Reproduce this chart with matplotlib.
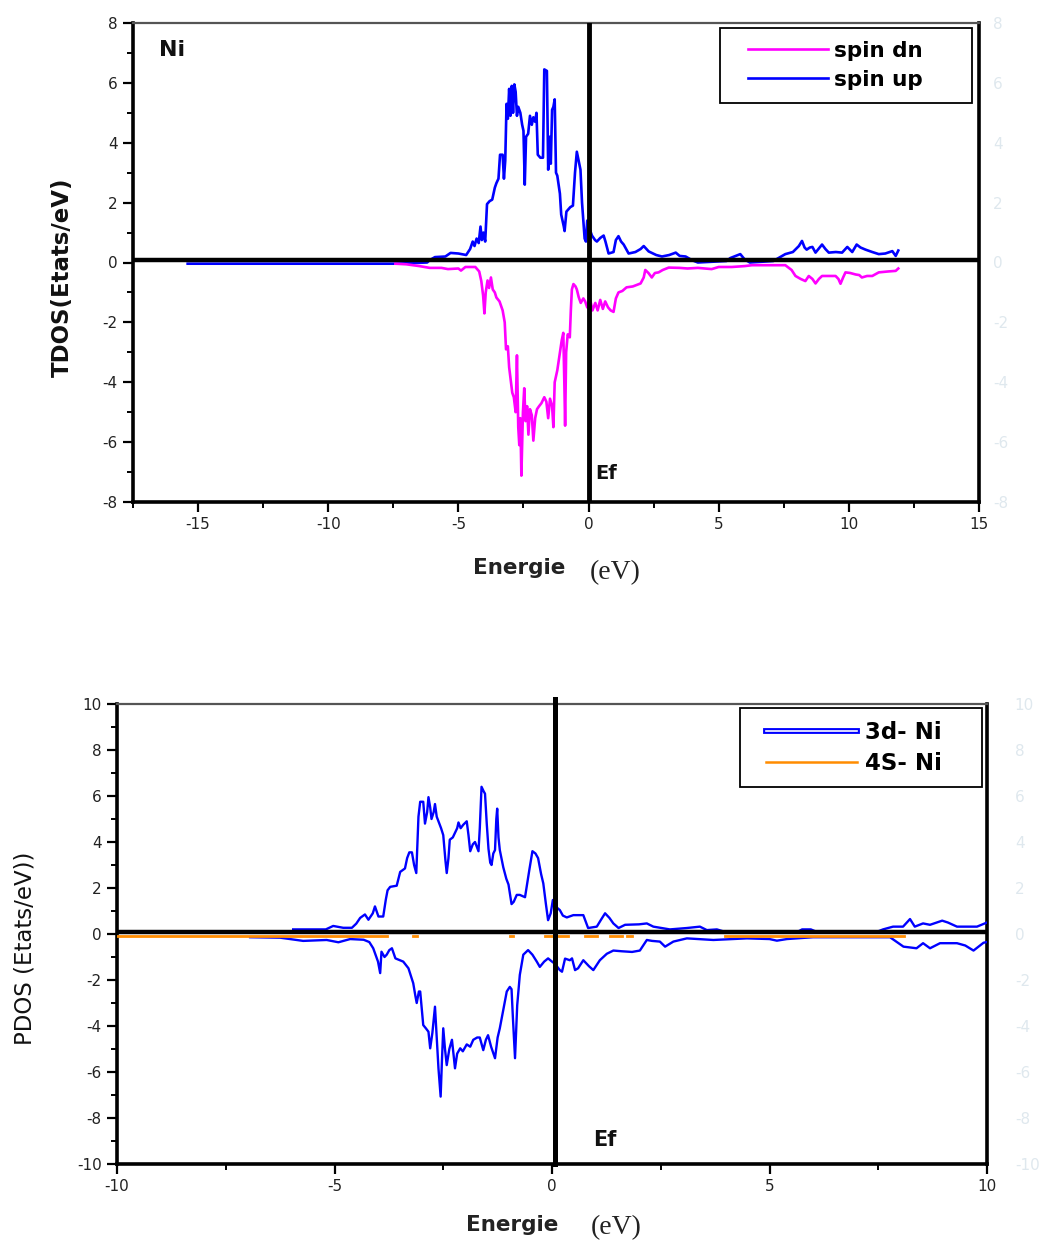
import numpy as np
import matplotlib
matplotlib.use("Agg")
import matplotlib.pyplot as plt
from matplotlib.lines import Line2D
from matplotlib.legend_handler import HandlerLine2D
import matplotlib.patheffects as pe

# ---------------- data ----------------
# Top panel: TDOS of Ni
E_up_top = [-15.4, -7.4, -6.2, -6.1, -5.9, -5.5, -5.3, -5.0, -4.7, -4.55, -4.45, -4.38, -4.3, -4.22,
            -4.15, -4.1, -4.04, -3.97, -3.9, -3.8, -3.7, -3.6, -3.54, -3.46, -3.4, -3.3, -3.25, -3.2,
            -3.15, -3.1, -3.05, -3.0, -2.95, -2.9, -2.85, -2.8, -2.75, -2.7, -2.62, -2.55, -2.5, -2.45,
            -2.4, -2.32, -2.25, -2.18, -2.12, -2.05, -2.0, -1.95, -1.85, -1.75, -1.7, -1.6, -1.55, -1.5,
            -1.45, -1.4, -1.35, -1.3, -1.25, -1.2, -1.1, -1.05, -0.95, -0.92, -0.85, -0.7, -0.6, -0.52,
            -0.45, -0.38, -0.31, -0.25, -0.15, -0.1, -0.05, 0.05, 0.13, 0.25, 0.32, 0.45, 0.58, 0.65,
            0.77, 0.96, 1.05, 1.15, 1.25, 1.35, 1.54, 1.8, 2.0, 2.12, 2.31, 2.6, 2.82, 3.1, 3.35, 3.5,
            3.73, 3.97, 4.2, 5.3, 5.45, 5.83, 6.0, 6.2, 7.1, 7.3, 7.56, 7.85, 8.08, 8.2, 8.3, 8.38, 8.5,
            8.6, 8.72, 8.97, 9.1, 9.23, 9.5, 9.74, 9.94, 10.13, 10.3, 10.45, 10.64, 10.9, 11.15, 11.4,
            11.67, 11.8, 11.9]
dos_up_top = [-0.04, -0.04, 0.0, 0.08, 0.18, 0.2, 0.32, 0.3, 0.25, 0.45, 0.7, 0.55, 0.8, 0.65,
              1.2, 0.75, 1.0, 0.7, 1.95, 2.05, 2.1, 2.5, 2.65, 2.8, 3.6, 3.6, 2.8, 3.4,
              5.3, 4.8, 5.8, 4.9, 5.9, 5.0, 5.95, 5.7, 4.9, 5.2, 5.0, 4.6, 4.4, 2.6,
              4.2, 4.3, 4.9, 4.6, 4.85, 4.7, 5.0, 3.6, 3.5, 3.5, 6.45, 6.4, 3.1, 4.2,
              3.3, 5.1, 5.2, 5.45, 3.0, 2.9, 2.3, 1.6, 1.2, 1.05, 1.7, 1.85, 1.9, 3.0,
              3.7, 3.4, 3.1, 2.0, 0.8, 0.7, 1.4, 1.1, 0.9, 0.75, 0.7, 0.82, 0.9, 0.7,
              0.3, 0.35, 0.75, 0.88, 0.7, 0.6, 0.3, 0.35, 0.45, 0.55, 0.37, 0.25, 0.2, 0.25, 0.33, 0.22,
              0.2, 0.08, 0.0, 0.05, 0.15, 0.28, 0.1, 0.0, 0.05, 0.15, 0.28, 0.35, 0.55, 0.72, 0.5, 0.43, 0.5,
              0.52, 0.33, 0.6, 0.45, 0.33, 0.35, 0.33, 0.52, 0.35, 0.6, 0.5, 0.43, 0.35, 0.28, 0.3,
              0.38, 0.22, 0.4]

E_dn_top = [-7.42, -7.0, -6.5, -6.1, -5.65, -5.4, -5.0, -4.9, -4.73, -4.35, -4.2, -4.12, -4.05, -4.0,
            -3.95, -3.88, -3.82, -3.75, -3.68, -3.6, -3.54, -3.42, -3.3, -3.22, -3.17, -3.1, -3.05,
            -2.98, -2.93, -2.87, -2.8, -2.75, -2.7, -2.66, -2.62, -2.58, -2.52, -2.47, -2.42, -2.36,
            -2.31, -2.25, -2.18, -2.12, -2.05, -1.98, -1.9, -1.81, -1.7, -1.62, -1.55, -1.48, -1.4,
            -1.35, -1.3, -1.2, -1.1, -1.03, -0.97, -0.93, -0.9, -0.86, -0.8, -0.72, -0.68, -0.64,
            -0.58, -0.5, -0.45, -0.38, -0.3, -0.2, -0.13, -0.05, 0.05, 0.15, 0.26, 0.35, 0.45, 0.55,
            0.64, 0.75, 0.85, 0.96, 1.05, 1.15, 1.3, 1.46, 1.7, 2.0, 2.12, 2.18, 2.3, 2.43, 2.55,
            2.69, 2.85, 3.08, 3.5, 3.8, 4.2, 4.73, 5.0, 5.5, 6.0, 6.28, 7.0, 7.56, 7.8, 7.95, 8.15,
            8.33, 8.46, 8.6, 8.72, 8.85, 8.97, 9.2, 9.49, 9.6, 9.68, 9.78, 9.87, 10.05, 10.26, 10.4,
            10.5, 10.7, 10.9, 11.15, 11.5, 11.8, 11.9]
dos_dn_top = [-0.04, -0.06, -0.12, -0.18, -0.18, -0.22, -0.2, -0.27, -0.15, -0.15, -0.3, -0.62, -1.1, -1.7,
              -1.0, -0.6, -0.85, -0.5, -0.9, -1.0, -1.17, -1.3, -1.6, -2.0, -2.9, -2.8, -3.5,
              -4.0, -4.35, -4.5, -5.0, -3.1, -5.5, -6.1, -5.2, -7.12, -5.0, -4.2, -5.3, -4.8,
              -5.75, -4.9, -5.1, -5.95, -5.2, -4.9, -4.8, -4.7, -4.5, -4.65, -5.2, -4.55, -4.8,
              -5.5, -4.0, -3.6, -3.0, -2.6, -2.35, -4.0, -5.45, -3.0, -2.4, -2.5, -1.6, -0.9,
              -0.72, -0.8, -0.9, -1.15, -1.35, -1.2, -1.3, -1.5, -1.2, -1.6, -1.35, -1.6, -1.25, -1.55,
              -1.3, -1.5, -1.6, -1.65, -1.2, -1.0, -0.95, -0.83, -0.8, -0.7, -0.5, -0.25, -0.35, -0.5, -0.35,
              -0.33, -0.25, -0.17, -0.18, -0.2, -0.18, -0.22, -0.15, -0.15, -0.12, -0.09, -0.09, -0.09, -0.25, -0.45, -0.55,
              -0.62, -0.45, -0.55, -0.7, -0.55, -0.45, -0.45, -0.45, -0.55, -0.71, -0.5, -0.33, -0.35, -0.4, -0.42,
              -0.5, -0.45, -0.45, -0.33, -0.3, -0.28, -0.2]

# Bottom panel: PDOS of Ni
E_3d_up = [-5.95, -5.2, -5.03, -4.8, -4.6, -4.5, -4.41, -4.3, -4.22, -4.12, -4.07, -3.99, -3.88, -3.82,
           -3.78, -3.72, -3.57, -3.49, -3.38, -3.33, -3.28, -3.22, -3.17, -3.12, -3.07, -3.03, -2.96,
           -2.92, -2.87, -2.84, -2.8, -2.77, -2.72, -2.69, -2.65, -2.61, -2.55, -2.5, -2.45, -2.42,
           -2.38, -2.35, -2.28, -2.23, -2.18, -2.15, -2.1, -2.04, -1.96, -1.92, -1.88, -1.82, -1.77,
           -1.69, -1.66, -1.62, -1.57, -1.54, -1.5, -1.46, -1.42, -1.39, -1.35, -1.31, -1.28, -1.26,
           -1.23, -1.2, -1.12, -1.05, -1.0, -0.93, -0.88, -0.81, -0.74, -0.62, -0.52, -0.45, -0.38,
           -0.32, -0.25, -0.2, -0.14, -0.09, -0.03, 0.02, 0.08, 0.18, 0.25, 0.34, 0.49, 0.6, 0.72,
           0.83, 1.03, 1.12, 1.22, 1.32, 1.41, 1.53, 1.68, 2.0, 2.18, 2.33, 2.71, 3.1, 3.4, 3.56,
           3.79, 4.0, 5.65, 5.75, 5.95, 6.1, 7.45, 7.61, 7.84, 8.07, 8.23, 8.34, 8.53, 8.69, 8.97,
           9.1, 9.31, 9.77, 10.0]
dos_3d_up = [0.2, 0.2, 0.35, 0.27, 0.27, 0.45, 0.7, 0.85, 0.62, 0.9, 1.2, 0.76, 0.76, 1.5,
             1.9, 2.05, 2.1, 2.7, 2.85, 3.3, 3.55, 3.55, 3.0, 2.65, 5.1, 5.75, 5.75,
             4.8, 5.3, 5.95, 5.5, 5.0, 5.3, 5.65, 5.1, 4.9, 4.6, 4.3, 3.2, 2.65,
             3.3, 4.1, 4.2, 4.4, 4.6, 4.85, 4.6, 4.75, 4.9, 4.3, 3.6, 3.9, 4.0,
             3.6, 4.6, 6.4, 6.2, 6.1, 4.8, 3.7, 3.1, 3.0, 3.5, 3.65, 5.0, 5.45,
             4.2, 3.65, 2.9, 2.4, 2.15, 1.3, 1.4, 1.7, 1.7, 1.6, 2.8, 3.6, 3.5,
             3.3, 2.6, 2.2, 1.3, 0.6, 0.9, 1.48, 1.2, 1.04, 0.8, 0.72, 0.82, 0.82, 0.82,
             0.26, 0.32, 0.6, 0.9, 0.7, 0.46, 0.26, 0.4, 0.42, 0.46, 0.32, 0.2, 0.26, 0.32, 0.17,
             0.2, 0.08, 0.1, 0.2, 0.2, 0.08, 0.08, 0.2, 0.32, 0.32, 0.65, 0.32, 0.46, 0.4, 0.58,
             0.5, 0.32, 0.32, 0.5]

E_3d_dn = [-6.94, -6.25, -5.72, -5.18, -4.91, -4.64, -4.33, -4.2, -4.11, -4.0, -3.95, -3.92, -3.85,
           -3.8, -3.74, -3.68, -3.6, -3.42, -3.3, -3.19, -3.14, -3.11, -3.06, -3.03, -2.96, -2.9,
           -2.84, -2.8, -2.75, -2.69, -2.65, -2.61, -2.56, -2.53, -2.5, -2.46, -2.42, -2.36, -2.3,
           -2.26, -2.23, -2.18, -2.11, -2.05, -1.96, -1.88, -1.81, -1.72, -1.66, -1.58, -1.52, -1.47,
           -1.4, -1.31, -1.25, -1.2, -1.12, -1.04, -0.97, -0.93, -0.9, -0.85, -0.8, -0.74, -0.66,
           -0.55, -0.45, -0.35, -0.28, -0.18, -0.09, 0.0, 0.07, 0.18, 0.23, 0.3, 0.41, 0.46, 0.53,
           0.6, 0.72, 0.85, 0.95, 1.1, 1.26, 1.41, 1.6, 1.84, 2.02, 2.18, 2.3, 2.48, 2.6, 2.79,
           3.1, 3.71, 4.48, 5.0, 5.17, 5.4, 6.0, 7.77, 8.08, 8.38, 8.53, 8.69, 8.92, 9.31, 9.5,
           9.69, 9.92, 10.0]
dos_3d_dn = [-0.14, -0.16, -0.3, -0.26, -0.36, -0.22, -0.25, -0.35, -0.62, -1.2, -1.7, -0.77, -1.0,
             -0.9, -0.7, -0.62, -1.06, -1.2, -1.49, -2.14, -2.7, -3.0, -2.5, -2.5, -3.96, -4.1,
             -4.25, -4.97, -4.3, -3.16, -4.5, -5.84, -7.07, -5.5, -4.1, -5.0, -5.7, -5.0, -4.6,
             -5.3, -5.84, -5.2, -4.97, -5.1, -4.8, -4.9, -4.6, -4.5, -4.5, -5.05, -4.6, -4.4,
             -4.9, -5.4, -4.5, -4.1, -3.3, -2.5, -2.3, -2.4, -3.6, -5.4, -3.1, -1.78, -0.9,
             -0.7, -0.9, -1.2, -1.43, -1.2, -1.06, -1.2, -1.3, -1.57, -1.64, -1.07, -1.14, -1.06, -1.57,
             -1.49, -1.14, -1.4, -1.57, -1.14, -0.86, -0.72, -0.75, -0.78, -0.72, -0.26, -0.3, -0.33, -0.55, -0.33,
             -0.19, -0.26, -0.19, -0.22, -0.29, -0.22, -0.14, -0.14, -0.55, -0.62, -0.4, -0.62, -0.4, -0.4, -0.5,
             -0.72, -0.38, -0.35]

E_4s = [-10.0, -3.8, np.nan, -3.2, -3.1, np.nan, -0.97, -0.9, np.nan, -0.16, 0.37, np.nan,
        0.75, 1.03, np.nan, 1.33, 1.6, np.nan, 1.72, 1.84, np.nan, 3.98, 8.1]
dos_4s = [-0.1, -0.1, np.nan, -0.1, -0.1, np.nan, -0.1, -0.1, np.nan, -0.1, -0.1, np.nan,
          -0.1, -0.1, np.nan, -0.1, -0.1, np.nan, -0.1, -0.1, np.nan, -0.1, -0.1]

top_xticks = [-15, -10, -5, 0, 5, 10, 15]
top_yticks = [-8, -6, -4, -2, 0, 2, 4, 6, 8]
bot_xticks = [-10, -5, 0, 5, 10]
bot_yticks = [-10, -8, -6, -4, -2, 0, 2, 4, 6, 8, 10]

# ---------------- figure ----------------
W, H = 1042, 1243
fig = plt.figure(figsize=(W / 100, H / 100), dpi=100)
fig.patch.set_facecolor("white")

TICKFONT = dict(family="DejaVu Sans", size=11)


def px_axes(l, t, r, b):
    return fig.add_axes([l / W, 1 - b / H, (r - l) / W, (b - t) / H])


def style_axes(ax, xt, yt, xminor, yminor, ghost_x_pad):
    for s in ("left", "bottom", "right"):
        ax.spines[s].set_linewidth(2.6)
        ax.spines[s].set_color("black")
    ax.spines["top"].set_linewidth(1.6)
    ax.spines["top"].set_color("#555555")
    ax.set_xticks(xt)
    ax.set_yticks(yt)
    ax.set_xticklabels([str(v) for v in xt], fontdict=TICKFONT, color="#222222")
    ax.set_yticklabels([str(v) for v in yt], fontdict=TICKFONT, color="#222222")
    ax.set_xticks(xminor, minor=True)
    ax.set_yticks(yminor, minor=True)
    ax.tick_params(which="major", direction="out", length=7, width=1.6, color="black", pad=4)
    ax.tick_params(which="minor", direction="out", length=4, width=1.4, color="black")
    ax.tick_params(top=False, right=False, which="both")
    # faint ghost labels on the right side
    sec = ax.secondary_yaxis("right")
    sec.set_yticks(yt)
    sec.set_yticklabels([str(v) for v in yt], fontdict=TICKFONT, color="#dfe8ee")
    sec.tick_params(length=0, pad=ghost_x_pad)
    sec.spines["right"].set_visible(False)


# ---------------- top panel ----------------
ax1 = px_axes(133, 23, 979, 502)
ax1.set_xlim(-17.5, 15)
ax1.set_ylim(-8, 8)
style_axes(ax1, top_xticks, top_yticks, np.arange(-17.5, 15.1, 2.5), np.arange(-8, 8.1, 1), 10)

l_up, = ax1.plot(E_up_top, dos_up_top, color="#0000ff", lw=1.9, zorder=3, label="spin up")
l_dn, = ax1.plot(E_dn_top, dos_dn_top, color="#ff00ff", lw=1.9, zorder=3, label="spin dn")
ax1.axhline(0.08, color="black", lw=3.2, zorder=5)
ax1.axvline(0.03, color="black", lw=3.5, zorder=5)

ax1.text(-16.5, 7.1, "Ni", fontsize=16, fontweight="bold", family="DejaVu Sans",
         color="#111111", ha="left", va="center")
ax1.text(0.25, -7.05, "Ef", fontsize=14, fontweight="bold", family="DejaVu Sans",
         color="#111111", ha="left", va="center")

leg1 = ax1.legend(handles=[l_dn, l_up], loc="upper left", mode="expand",
                  bbox_to_anchor=(0.694, 0.829, 0.298, 0.1606),
                  borderaxespad=0, fancybox=False, framealpha=1, edgecolor="black",
                  prop=dict(family="DejaVu Sans", weight="bold", size=15.5),
                  handler_map={Line2D: HandlerLine2D(xpad=0.7)},
                  handlelength=4.42, handletextpad=0.25, labelspacing=0.42, borderpad=0.6)
leg1.get_frame().set_linewidth(1.3)

fig.text(62 / W, 1 - 277 / H, "TDOS(Etats/eV)", rotation=90, ha="center", va="center",
         fontsize=16.5, fontweight="bold", family="DejaVu Sans", color="#111111")
fig.text(519 / W, 1 - 568 / H, "Energie", ha="center", va="center", fontsize=15.5,
         fontweight="bold", family="DejaVu Sans", color="#222222")
fig.text(615 / W, 1 - 573 / H, "(eV)", ha="center", va="center", fontsize=20,
         family=["Liberation Serif", "DejaVu Serif"], color="#222222")

# ---------------- bottom panel ----------------
ax2 = px_axes(117, 704, 987, 1164)
ax2.set_xlim(-10, 10)
ax2.set_ylim(-10, 10)
style_axes(ax2, bot_xticks, bot_yticks, np.arange(-10, 10.1, 2.5), np.arange(-10, 10.1, 1), 20)

b_up, = ax2.plot(E_3d_up, dos_3d_up, color="#0000ff", lw=1.7, zorder=3)
b_dn, = ax2.plot(E_3d_dn, dos_3d_dn, color="#0000ff", lw=1.7, zorder=3)
o_4s, = ax2.plot(E_4s, dos_4s, color="#ff8c00", lw=2.0, zorder=4)
ax2.axhline(0.08, color="black", lw=3.2, zorder=5)
ax2.axvline(0.07, ymin=0, ymax=1.01, color="black", lw=3.6, zorder=5, clip_on=False)

ax2.text(0.95, -8.95, "Ef", fontsize=15, fontweight="bold", family="DejaVu Sans",
         color="#111111", ha="left", va="center")

h3d = Line2D([], [], color="#0000ff", lw=4.2,
             path_effects=[pe.Stroke(linewidth=4.2, foreground="#0000ff"),
                           pe.Stroke(linewidth=1.2, foreground="white")])
h4s = Line2D([], [], color="#ff8c00", lw=1.8)
leg2 = ax2.legend(handles=[h3d, h4s], labels=["3d- Ni", "4S- Ni"], loc="upper left",
                  mode="expand", bbox_to_anchor=(0.716, 0.817, 0.278, 0.174),
                  borderaxespad=0, fancybox=False, framealpha=1,
                  edgecolor="black", prop=dict(family="DejaVu Sans", weight="bold", size=16.5),
                  handler_map={Line2D: HandlerLine2D(xpad=0.58)},
                  handlelength=4.55, handletextpad=0.35, labelspacing=0.35, borderpad=0.55)
leg2.get_frame().set_linewidth(1.3)

fig.text(25 / W, 1 - 948 / H, "PDOS (Etats/eV))", rotation=90, ha="center", va="center",
         fontsize=16.5, family="DejaVu Sans", color="#111111")
fig.text(512 / W, 1 - 1225 / H, "Energie", ha="center", va="center", fontsize=15.5,
         fontweight="bold", family="DejaVu Sans", color="#222222")
fig.text(616 / W, 1 - 1228 / H, "(eV)", ha="center", va="center", fontsize=20,
         family=["Liberation Serif", "DejaVu Serif"], color="#222222")

fig.savefig("out.png", dpi=100, facecolor="white")
